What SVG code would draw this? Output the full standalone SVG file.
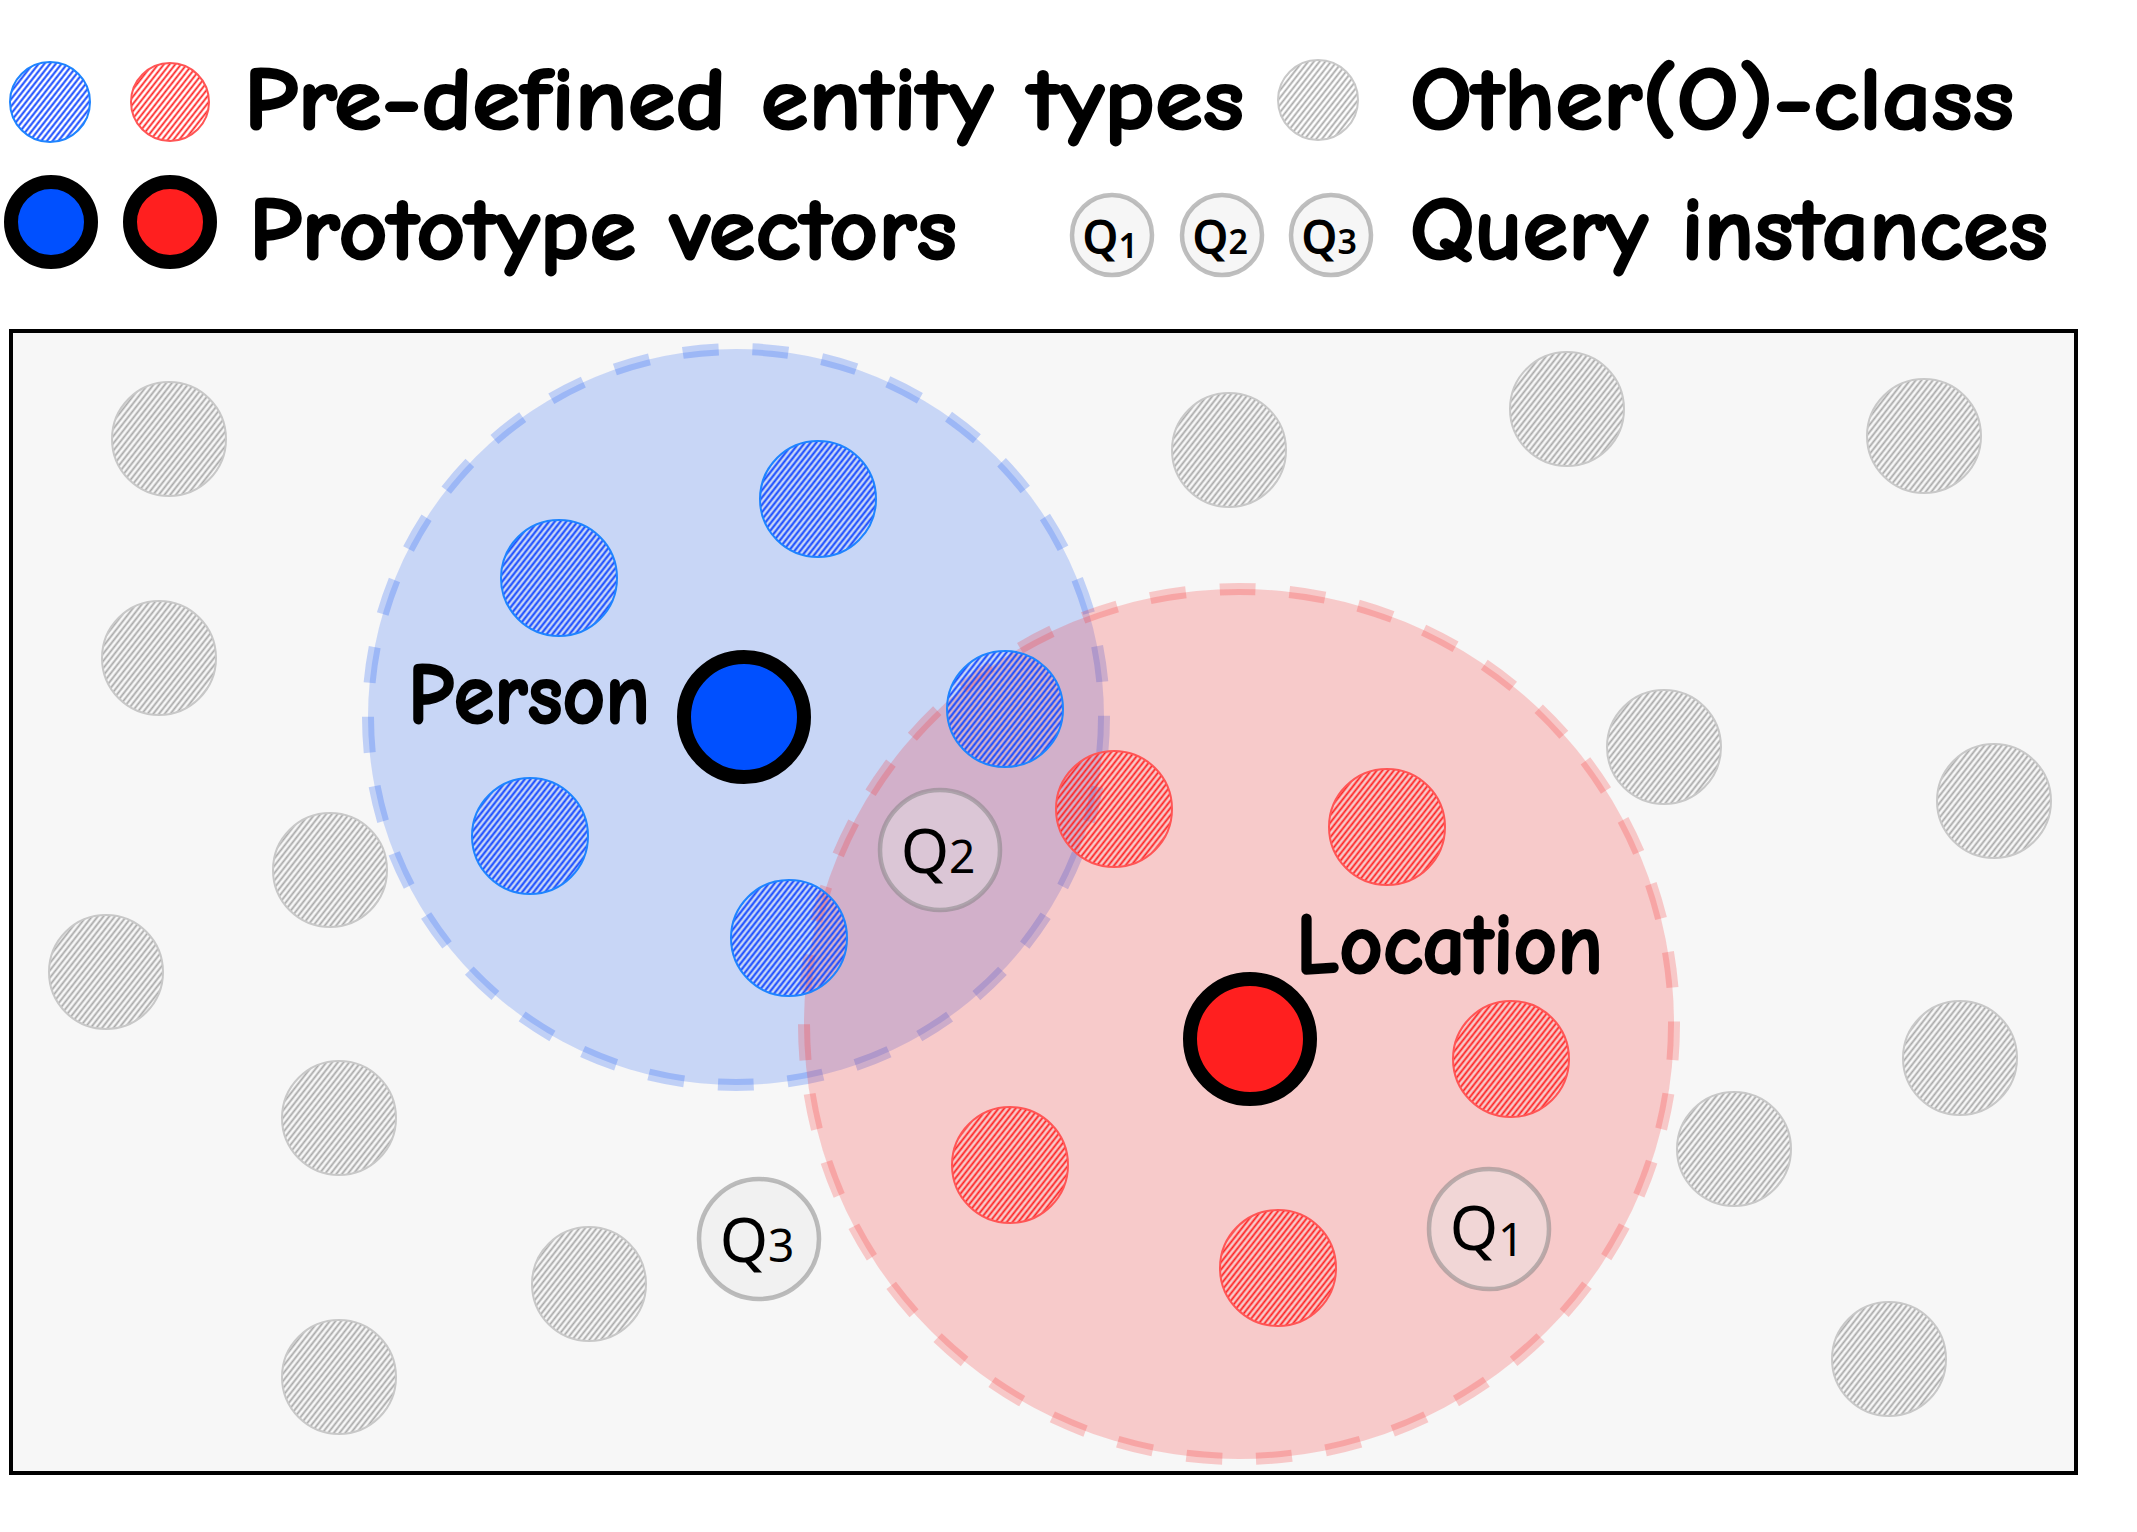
<svg xmlns="http://www.w3.org/2000/svg" width="2137" height="1532" viewBox="0 0 2137 1532">
<style>
.lbl{font-family:"Comic Sans MS","Comic Neue","Lato","DejaVu Sans",sans-serif;font-weight:bold;fill:#000;stroke:#000;stroke-width:2;stroke-linejoin:round}
.qt{font-family:"Noto Sans","Open Sans","DejaVu Sans",sans-serif;fill:#000}
.gray{fill:url(#hg);stroke:#c8c8c8;stroke-width:2}
.blue{fill:url(#hb);stroke:#1e84ff;stroke-width:2}
.red{fill:url(#hr);stroke:#ff5555;stroke-width:2}
.q{fill:#e8e8e8;fill-opacity:0.4;stroke:#808080;stroke-opacity:0.5;stroke-width:4.5}
.protoB{fill:#0050ff;stroke:#000;stroke-width:14}
.protoR{fill:#ff1f1f;stroke:#000;stroke-width:14}
.clu{stroke-width:12;stroke-dasharray:36 34;stroke-opacity:0.22}
</style>
<defs>
<pattern id="hg" patternUnits="userSpaceOnUse" width="4.5" height="10" patternTransform="rotate(38)">
<line x1="2.25" y1="0" x2="2.25" y2="10" stroke="#a9a9a9" stroke-width="1.8"/>
</pattern>
<pattern id="hb" patternUnits="userSpaceOnUse" width="4.5" height="10" patternTransform="rotate(38)">
<line x1="2.25" y1="0" x2="2.25" y2="10" stroke="#1448ff" stroke-width="2"/>
</pattern>
<pattern id="hr" patternUnits="userSpaceOnUse" width="4.5" height="10" patternTransform="rotate(38)">
<line x1="2.25" y1="0" x2="2.25" y2="10" stroke="#ff2020" stroke-width="1.8"/>
</pattern>
</defs>
<rect width="2137" height="1532" fill="#fff"/>

<!-- legend -->
<g id="legend">
<g id="leg-blue"><circle cx="50" cy="102" r="40" class="blue"/></g>
<g id="leg-red"><circle cx="170" cy="102" r="39" class="red"/></g>
<text class="lbl" x="244" y="129" font-size="88" textLength="1000" lengthAdjust="spacingAndGlyphs">Pre-defined entity types</text>
<g id="leg-gray"><circle cx="1318" cy="100" r="40" class="gray"/></g>
<text class="lbl" x="1410" y="129" font-size="88" textLength="604" lengthAdjust="spacingAndGlyphs">Other(O)-class</text>
<g id="leg-protoB"><circle cx="51" cy="222" r="40" class="protoB" stroke-width="13"/></g>
<g id="leg-protoR"><circle cx="170" cy="222" r="40" class="protoR" stroke-width="13"/></g>
<text class="lbl" x="249" y="259" font-size="88" textLength="708" lengthAdjust="spacingAndGlyphs">Prototype vectors</text>
<g id="leg-q1"><circle cx="1112" cy="235" r="40" class="q" fill-opacity="0.9"/><text class="qt" x="1110" y="254" font-size="46" text-anchor="middle" font-weight="600">Q<tspan font-size="34" dy="4">1</tspan></text></g>
<g id="leg-q2"><circle cx="1222" cy="235" r="40" class="q" fill-opacity="0.9"/><text class="qt" x="1220" y="254" font-size="46" text-anchor="middle" font-weight="600">Q<tspan font-size="34">2</tspan></text></g>
<g id="leg-q3"><circle cx="1331" cy="235" r="40" class="q" fill-opacity="0.9"/><text class="qt" x="1329" y="254" font-size="46" text-anchor="middle" font-weight="600">Q<tspan font-size="34">3</tspan></text></g>
<text class="lbl" x="1410" y="259" font-size="88" textLength="638" lengthAdjust="spacingAndGlyphs">Query instances</text>
</g>

<!-- frame -->
<rect id="frame" x="11" y="331" width="2065" height="1142" fill="#f7f7f7" stroke="#000" stroke-width="4"/>

<!-- clusters -->
<g id="cluster-person"><circle cx="736" cy="717" r="368" class="clu" fill="#004af7" fill-opacity="0.19" stroke="#004af7"/></g>
<g id="cluster-location"><circle cx="1239" cy="1024" r="435" class="clu" fill="#fb2424" fill-opacity="0.21" stroke="#fb2424"/></g>

<!-- other class -->
<g id="o1"><circle cx="169" cy="439" r="57" class="gray"/></g>
<g id="o2"><circle cx="159" cy="658" r="57" class="gray"/></g>
<g id="o3"><circle cx="330" cy="870" r="57" class="gray"/></g>
<g id="o4"><circle cx="106" cy="972" r="57" class="gray"/></g>
<g id="o5"><circle cx="339" cy="1118" r="57" class="gray"/></g>
<g id="o6"><circle cx="339" cy="1377" r="57" class="gray"/></g>
<g id="o7"><circle cx="589" cy="1284" r="57" class="gray"/></g>
<g id="o8"><circle cx="1229" cy="450" r="57" class="gray"/></g>
<g id="o9"><circle cx="1567" cy="409" r="57" class="gray"/></g>
<g id="o10"><circle cx="1924" cy="436" r="57" class="gray"/></g>
<g id="o11"><circle cx="1664" cy="747" r="57" class="gray"/></g>
<g id="o12"><circle cx="1994" cy="801" r="57" class="gray"/></g>
<g id="o13"><circle cx="1960" cy="1058" r="57" class="gray"/></g>
<g id="o14"><circle cx="1734" cy="1149" r="57" class="gray"/></g>
<g id="o15"><circle cx="1889" cy="1359" r="57" class="gray"/></g>

<!-- person entities -->
<g id="b1"><circle cx="818" cy="499" r="58" class="blue"/></g>
<g id="b2"><circle cx="559" cy="578" r="58" class="blue"/></g>
<g id="b3"><circle cx="530" cy="836" r="58" class="blue"/></g>
<g id="b4"><circle cx="1005" cy="709" r="58" class="blue"/></g>
<g id="b5"><circle cx="789" cy="938" r="58" class="blue"/></g>

<!-- location entities -->
<g id="r1"><circle cx="1114" cy="809" r="58" class="red"/></g>
<g id="r2"><circle cx="1387" cy="827" r="58" class="red"/></g>
<g id="r3"><circle cx="1511" cy="1059" r="58" class="red"/></g>
<g id="r4"><circle cx="1010" cy="1165" r="58" class="red"/></g>
<g id="r5"><circle cx="1278" cy="1268" r="58" class="red"/></g>

<!-- queries -->
<g id="q2"><circle cx="940" cy="850" r="60" class="q"/><text class="qt" x="938" y="873" font-size="62" text-anchor="middle">Q<tspan font-size="46">2</tspan></text></g>
<g id="q3"><circle cx="759" cy="1239" r="60" class="q"/><text class="qt" x="757" y="1262" font-size="62" text-anchor="middle">Q<tspan font-size="46">3</tspan></text></g>
<g id="q1"><circle cx="1489" cy="1229" r="60" class="q"/><text class="qt" x="1487" y="1250" font-size="62" text-anchor="middle">Q<tspan font-size="46" dy="6">1</tspan></text></g>

<!-- prototypes -->
<g id="proto-person"><circle cx="744" cy="717" r="60" class="protoB"/></g>
<g id="proto-location"><circle cx="1250" cy="1039" r="60" class="protoR"/></g>

<text id="lbl-person" class="lbl" x="408" y="723" font-size="86" textLength="242" lengthAdjust="spacingAndGlyphs">Person</text>
<text id="lbl-location" class="lbl" x="1296" y="973" font-size="86" textLength="307" lengthAdjust="spacingAndGlyphs">Location</text>
</svg>
